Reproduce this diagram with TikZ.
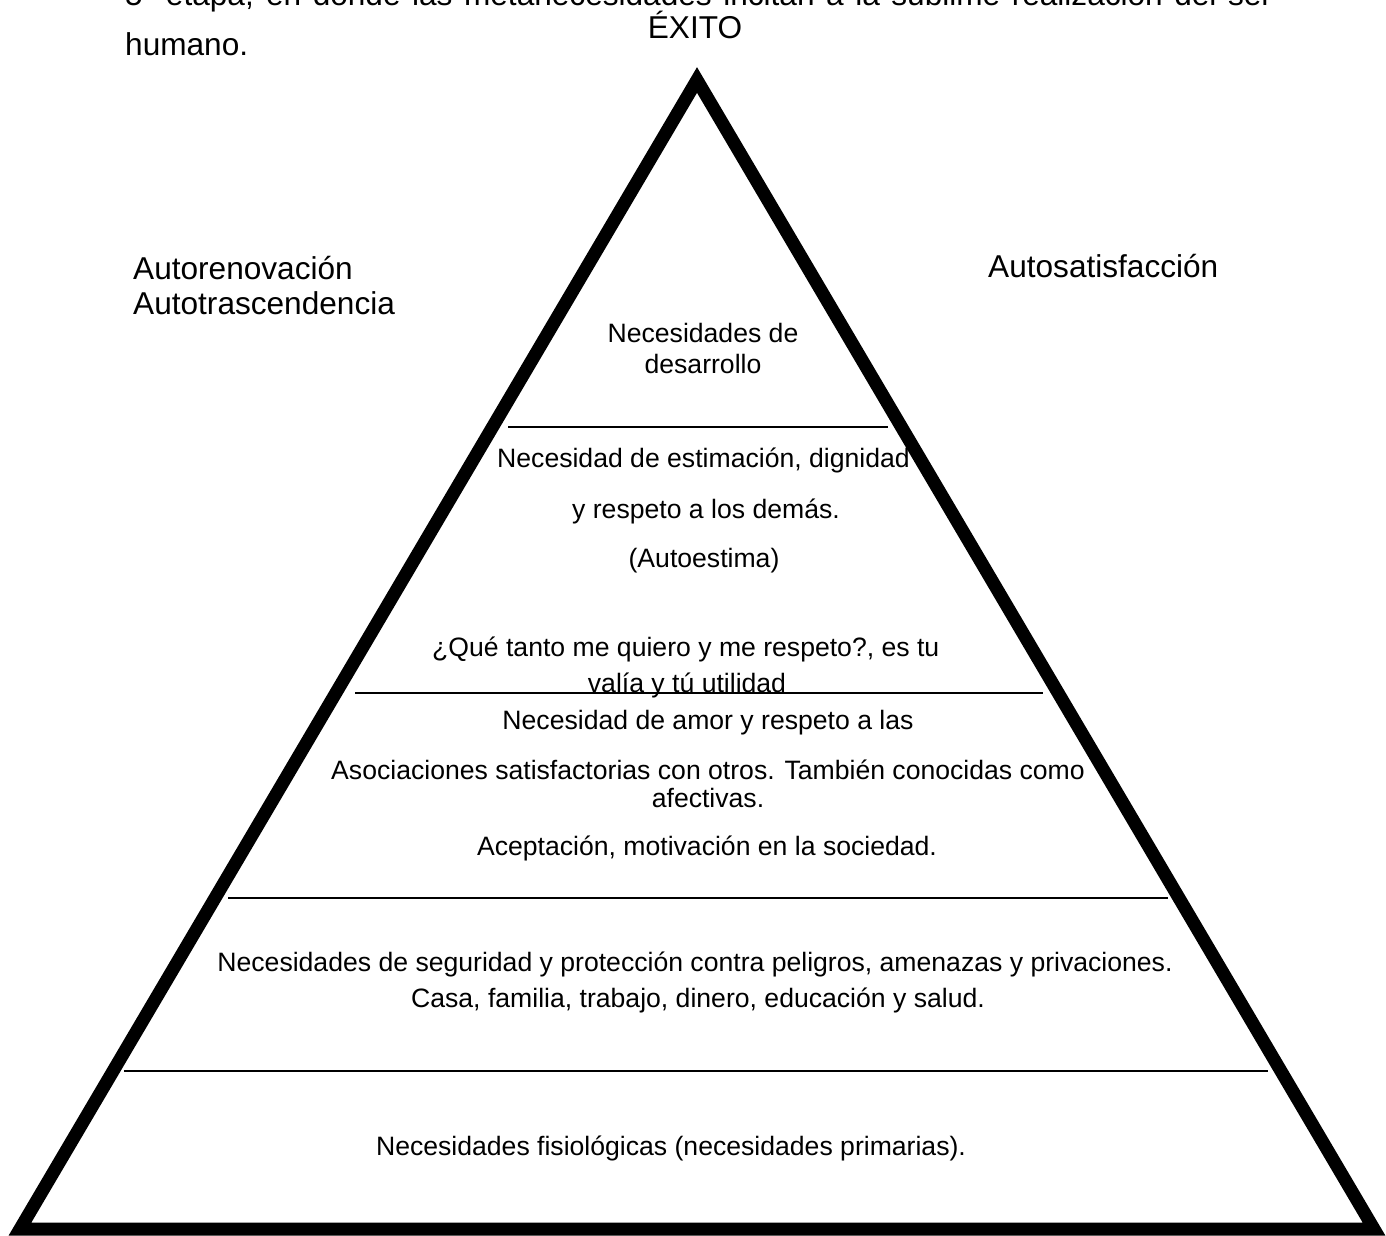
\documentclass[tikz,border=0pt]{standalone}
\usepackage{fontspec}
\setmainfont{Liberation Sans}
\begin{document}
\begin{tikzpicture}[x=1pt,y=-1pt,
  small/.style={font=\fontsize{26.6}{30}\selectfont, inner sep=0pt, anchor=base},
  big/.style={font=\fontsize{31.6}{36}\selectfont, inner sep=0pt, anchor=base},
  level/.style={line width=2.5pt},
  pyr/.style={line width=13pt, line join=miter, miter limit=10}]
\useasboundingbox (0,0) rectangle (1386,1235);
\fill[white] (0,0) rectangle (1386,1235);
% cropped paragraph text at the top
\begin{scope}
\clip (0,0) rectangle (1386,1235);
\node[big, anchor=base west] (para1) at (125,5) {\makebox[1147pt][s]{5ª etapa, en donde las metanecesidades incitan a la sublime realización del ser}};
\end{scope}
\node[big, anchor=base west] (para2) at (125,55) {humano.};
\node[big] (exito) at (695,38) {ÉXITO};
% pyramid
\coordinate (apex) at (697,80);
\coordinate (bl) at (20,1229);
\coordinate (br) at (1374,1229);
\draw[pyr] (apex) -- (bl) -- (br) -- cycle;
% level separators
\draw[level] (508,427) -- (888,427);
\draw[level] (355,693) -- (1043,693);
\draw[level] (228,898) -- (1168,898);
\draw[level] (124,1071) -- (1268,1071);
% side labels
\node[big, anchor=base west] (renov) at (133,279) {Autorenovación};
\node[big, anchor=base west] (trasc) at (133,314) {Autotrascendencia};
\node[big, anchor=base west] (satis) at (988,277) {Autosatisfacción};
% level texts
\node[small] (des1) at (703,342) {Necesidades de};
\node[small] (des2) at (703,373) {desarrollo};
\node[small, anchor=base west] (est1) at (497,467) {Necesidad de estimación, dignidad};
\node[small] (est2) at (706,518) {y respeto a los demás.};
\node[small] (est3) at (704,567) {(Autoestima)};
\node[small, anchor=base west] (est4) at (432,656) {¿Qué tanto me quiero y me respeto?, es tu};
\node[small] (est5) at (687,692) {valía y tú utilidad};
\node[small] (amo1) at (708,729) {Necesidad de amor y respeto a las};
\node[small] (amo2) at (708,779) {Asociaciones satisfactorias con otros. También conocidas como};
\node[small] (amo3) at (708,807) {afectivas.};
\node[small] (amo4) at (707,855) {Aceptación, motivación en la sociedad.};
\node[small] (seg1) at (695,971) {Necesidades de seguridad y protección contra peligros, amenazas y privaciones.};
\node[small] (seg2) at (698,1007) {Casa, familia, trabajo, dinero, educación y salud.};
\node[small] (fis) at (671,1155) {Necesidades fisiológicas (necesidades primarias).};
\end{tikzpicture}
\end{document}
